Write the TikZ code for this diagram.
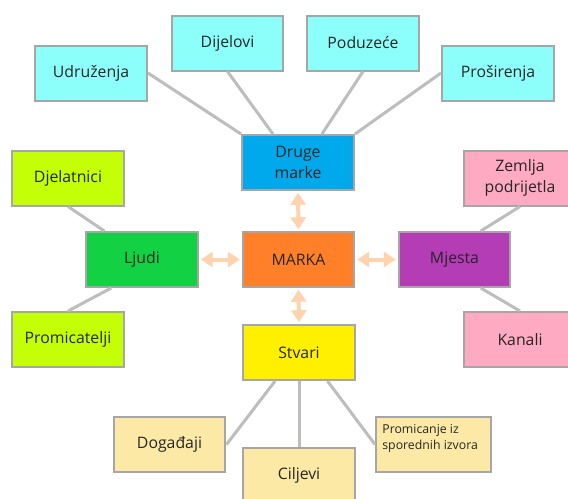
\documentclass[tikz,border=0pt]{standalone}
\usepackage{fontspec}
\setmainfont{Open Sans}
\usetikzlibrary{arrows.meta, calc, positioning}

\definecolor{boxline}{HTML}{A6A6A6}
\definecolor{linkgray}{HTML}{BDBDBD}
\definecolor{peach}{HTML}{FFD3AE}
\definecolor{cyanlt}{HTML}{8CFFFA}
\definecolor{bluemk}{HTML}{00A8EC}
\definecolor{greenmk}{HTML}{12D244}
\definecolor{orangemk}{HTML}{FF8028}
\definecolor{purplemk}{HTML}{B43CB4}
\definecolor{limemk}{HTML}{C4FF08}
\definecolor{pinkmk}{HTML}{FFAAC3}
\definecolor{yellowmk}{HTML}{FFF000}
\definecolor{sandmk}{HTML}{FCE9A6}

\tikzset{
  box/.style={draw=boxline, line width=0.04cm, minimum width=2.24cm, minimum height=1.1cm,
    inner sep=2pt, align=center, text=black!85, font=\fontsize{9}{12}\selectfont},
  link/.style={draw=linkgray, line width=0.06cm},
  dbl/.style={{Triangle[width=0.3cm,length=0.24cm]}-{Triangle[width=0.3cm,length=0.24cm]},
    draw=peach, line width=0.08cm, shorten <=1pt, shorten >=1pt}
}

\begin{document}
\begin{tikzpicture}[x=0.02cm, y=-0.02cm]
\useasboundingbox (0,0) rectangle (568,498);

%% druge marke
\node[box, fill=cyanlt] (udr) at (91,73) {Udruženja};
\node[box, fill=cyanlt] (dij) at (227.5,43) {Dijelovi};
\node[box, fill=cyanlt] (pod) at (363,43) {Poduzeće};
\node[box, fill=cyanlt] (pro) at (498,73) {Proširenja};
\node[box, fill=bluemk] (druge) at (298,162.5) {Druge\\marke};

%% ljudi
\node[box, fill=limemk] (djel) at (68,178) {Djelatnici};
\node[box, fill=greenmk] (ljudi) at (142,259.5) {Ljudi};
\node[box, fill=limemk] (promc) at (68,339.5) {Promicatelji};

%% centre
\node[box, fill=orangemk] (marka) at (298.5,259.5) {MARKA};

%% mjesta
\node[box, fill=pinkmk] (zem) at (520,178) {Zemlja\\podrijetla};
\node[box, fill=purplemk] (mjesta) at (454.5,259.5) {Mjesta};
\node[box, fill=pinkmk] (kan) at (520,339.5) {Kanali};

%% stvari
\node[box, fill=yellowmk] (stvari) at (299,352.5) {Stvari};
\node[box, fill=sandmk] (dog) at (169.5,444.5) {Događaji};
\node[box, fill=sandmk] (cilj) at (299,475.5) {Ciljevi};
\node[box, fill=sandmk, minimum width=2.3cm] (promi) at (433.5,444.5) {};
\node[anchor=north west, align=left, inner sep=0pt, text=black!85,
  font=\fontsize{7}{9}\selectfont] (promitxt) at ([xshift=0.14cm, yshift=-0.16cm]promi.north west)
  {Promicanje iz\\sporednih izvora};

%% links
\draw[link] (udr.east) -- (druge.north west);
\draw[link] (dij.south) -- ($(druge.north west)!0.28!(druge.north east)$);
\draw[link] (pod.south) -- ($(druge.north west)!0.71!(druge.north east)$);
\draw[link] (pro.west) -- (druge.north east);

\draw[link] (djel.south) -- ($(ljudi.north west)!0.17!(ljudi.north east)$);
\draw[link] (promc.north) -- ($(ljudi.south west)!0.23!(ljudi.south east)$);

\draw[link] (zem.south) -- ($(mjesta.north west)!0.73!(mjesta.north east)$);
\draw[link] (kan.north) -- ($(mjesta.south west)!0.73!(mjesta.south east)$);

\draw[link] (dog.east) -- ($(stvari.south west)!0.29!(stvari.south east)$);
\draw[link] (stvari.south) -- (cilj.north);
\draw[link] (promi.west) -- ($(stvari.south west)!0.75!(stvari.south east)$);

%% arrows to marka
\draw[dbl] (marka.north) -- (druge.south);
\draw[dbl] (marka.west) -- (ljudi.east);
\draw[dbl] (marka.east) -- (mjesta.west);
\draw[dbl] (marka.south) -- (stvari.north);

\end{tikzpicture}
\end{document}
